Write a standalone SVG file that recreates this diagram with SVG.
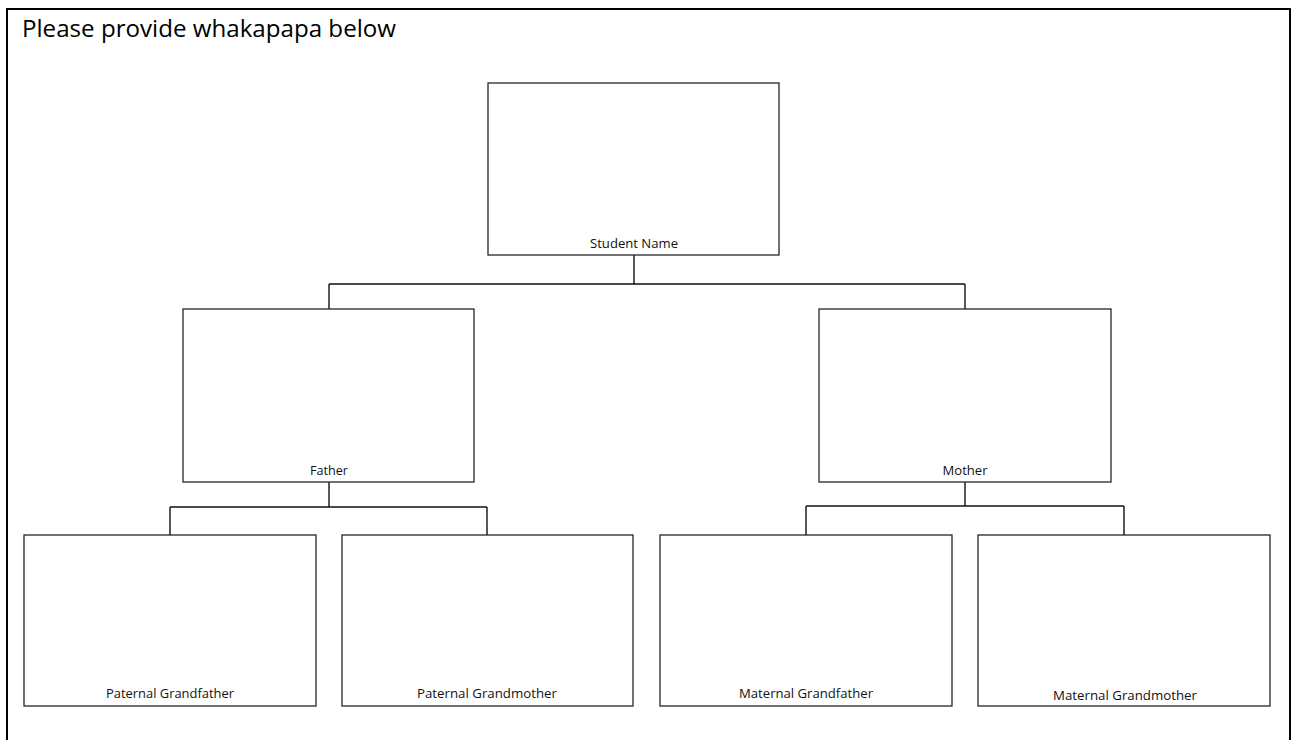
<svg xmlns="http://www.w3.org/2000/svg" width="1292" height="740" viewBox="0 0 1292 740">
<style>
.box{fill:#fff;stroke:#262626;stroke-width:1.3}
.lbl{font-family:"Open Sans","Liberation Sans",sans-serif;font-size:12px;fill:#111;text-anchor:middle}
.con{fill:none;stroke:#111;stroke-width:1.4}
</style>
<rect x="0" y="0" width="1292" height="740" fill="#fff"/>
<rect x="7" y="9" width="1283" height="800" fill="none" stroke="#000" stroke-width="2"/>
<text x="22" y="37" font-family="'Open Sans','Liberation Sans',sans-serif" font-size="23" fill="#000" textLength="374" lengthAdjust="spacingAndGlyphs">Please provide whakapapa below</text>
<g id="connectors">
<path class="con" d="M634 255V284M329 284H965M329 284V309M965 284V309"/>
<path class="con" d="M329 482V507M170 507H487M170 507V535M487 507V535"/>
<path class="con" d="M965 482V506M806 506H1124M806 506V535M1124 506V535"/>
</g>
<g id="student"><rect class="box" x="488" y="83" width="291" height="172"/><text class="lbl" x="634" y="248" textLength="88" lengthAdjust="spacingAndGlyphs">Student Name</text></g>
<g id="father"><rect class="box" x="183" y="309" width="291" height="173"/><text class="lbl" x="329" y="475" textLength="38" lengthAdjust="spacingAndGlyphs">Father</text></g>
<g id="mother"><rect class="box" x="819" y="309" width="292" height="173"/><text class="lbl" x="965" y="475" textLength="45" lengthAdjust="spacingAndGlyphs">Mother</text></g>
<g id="paternal-grandfather"><rect class="box" x="24" y="535" width="292" height="171"/><text class="lbl" x="170" y="698" textLength="128" lengthAdjust="spacingAndGlyphs">Paternal Grandfather</text></g>
<g id="paternal-grandmother"><rect class="box" x="342" y="535" width="291" height="171"/><text class="lbl" x="487" y="698" textLength="140" lengthAdjust="spacingAndGlyphs">Paternal Grandmother</text></g>
<g id="maternal-grandfather"><rect class="box" x="660" y="535" width="292" height="171"/><text class="lbl" x="806" y="698" textLength="134" lengthAdjust="spacingAndGlyphs">Maternal Grandfather</text></g>
<g id="maternal-grandmother"><rect class="box" x="978" y="535" width="292" height="171"/><text class="lbl" x="1125" y="700" textLength="144" lengthAdjust="spacingAndGlyphs">Maternal Grandmother</text></g>
</svg>
